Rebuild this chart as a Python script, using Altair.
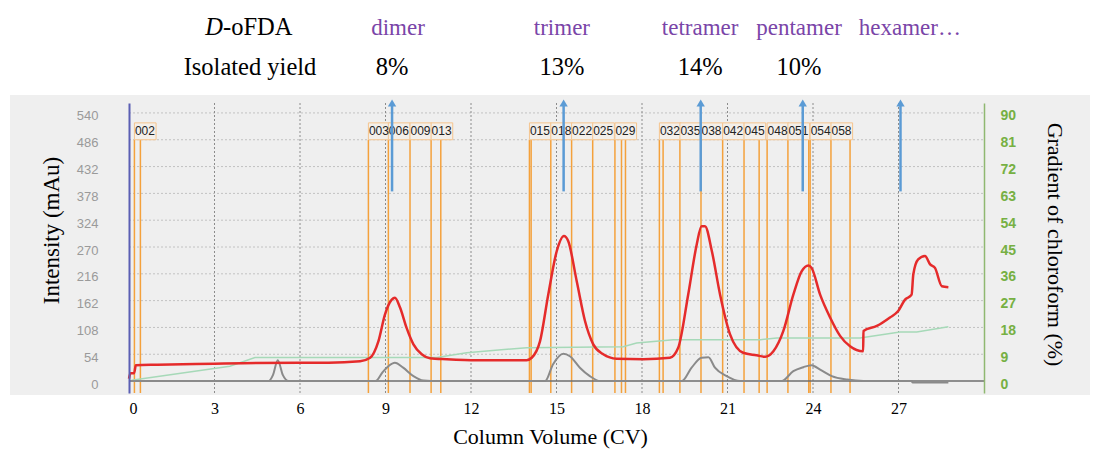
import altair as alt
import pandas as pd

SERIF = "Liberation Serif"
SANS = "Liberation Sans"

# ---------------- data ----------------
red_cv = [0.0, 0.05, 0.18, 0.24, 1.0, 3.0, 4.0, 6.0, 7.0, 8.11, 8.46, 8.75, 8.98, 9.22, 9.33,
          9.51, 9.74, 9.98, 10.27, 10.56, 11.15, 12.2, 13.95, 14.13, 14.42, 14.71, 15.01,
          15.26, 15.41, 15.71, 16.0, 16.29, 16.64, 17.11, 18.05, 18.98, 19.27, 19.62, 19.92,
          20.09, 20.21, 20.45, 20.74, 21.09, 21.55, 22.02, 22.32, 22.61, 22.96, 23.31, 23.6,
          23.84, 23.95, 24.25, 24.6, 24.95, 25.3, 25.76, 25.77, 26.24, 26.7, 26.99, 27.23,
          27.46, 27.52, 27.69, 27.93, 28.11, 28.28, 28.52, 28.75]
red_mau = [5, 16, 16, 32, 33, 35, 36, 37, 37, 40, 47, 80, 134, 164, 168,
           148, 107, 74, 54, 46, 44, 42, 42, 47, 80, 174, 262,
           292, 282, 201, 121, 74, 54, 45, 44, 47, 67, 174, 275,
           312, 312, 262, 174, 94, 57, 52, 49, 60, 101, 174, 221,
           233, 228, 174, 128, 91, 70, 60, 101, 111, 128, 141, 164,
           174, 215, 245, 252, 235, 228, 191, 189]

gray_cv = [0.0, 4.9, 5.05, 5.22, 5.4, 5.6, 8.65, 8.9, 9.1, 9.33, 9.62, 9.98, 10.33, 10.6,
           14.6, 14.88, 15.24, 15.47, 15.82, 16.17, 16.53, 19.4, 19.74, 20.09, 20.33, 20.56,
           20.97, 21.44, 22.9, 23.31, 23.66, 23.95, 24.25, 24.66, 25.2, 25.77, 27.45, 27.5,
           28.75]
gray_mau = [0, 0, 12, 42, 12, 0, 0, 18, 30, 37, 27, 10, 1, 0,
            0, 34, 55, 50, 27, 10, 0, 0, 27, 47, 48, 27,
            10, 0, 0, 20, 28, 32, 23, 10, 3, 0, 0, -3,
            -3]

grad_cv = [0.09, 3.54, 4.42, 10.8, 11.85, 13.95, 17.34, 17.81, 19.1, 22.16, 22.73, 25.65,
           27.05, 27.64, 28.75]
grad_pct = [0.3, 5.0, 7.9, 7.9, 9.5, 11.2, 11.5, 12.8, 13.9, 13.9, 14.5, 14.5,
            16.5, 16.5, 18.2]

fraction_cv = [0.19, 0.40, 8.40, 9.10, 9.86, 10.60, 10.94, 14.05, 14.11, 14.80, 15.53, 16.27,
               17.05, 17.28, 17.42, 18.61, 18.74, 19.33, 20.07, 20.83, 21.58, 22.11, 22.39,
               23.12, 23.85, 23.90, 24.63, 25.30]
fraction_label = ["002", "003", "006", "009", "013", "015", "018", "022", "025", "029",
                  "032", "035", "038", "042", "045", "048", "051", "054", "058"]
fraction_label_cv = [0.19, 8.40, 9.10, 9.86, 10.60, 14.05, 14.80, 15.53, 16.27, 17.05,
                     18.61, 19.33, 20.07, 20.83, 21.58, 22.39, 23.12, 23.90, 24.63]

arrow_cv = [9.23, 15.25, 20.06, 23.64, 27.07]
oligomer = ["dimer", "trimer", "tetramer", "pentamer", "hexamer…"]
oligomer_cv = [9.44, 15.19, 20.04, 23.51, 27.40]
yield_text = ["8%", "13%", "14%", "10%"]
yield_cv = [9.23, 15.19, 20.04, 23.51]

x_ticks = [0, 3, 6, 9, 12, 15, 18, 21, 24, 27]
y_ticks = [0, 54, 108, 162, 216, 270, 324, 378, 432, 486, 540]
grad_ticks = [0, 9, 18, 27, 36, 45, 54, 63, 72, 81, 90]

# ---------------- layout constants ----------------
W, H = 855, 290
BOX_LOW, BOX_HIGH, BOX_MID = 486, 520, 503
ARROW_LOW, ARROW_HIGH, ARROW_HEAD = 382, 554, 560

XS = alt.Scale(domain=[0, 30], nice=False, zero=False)
YS = alt.Scale(domain=[-24, 560], nice=False, zero=False)
GS = alt.Scale(domain=[-4, 560 / 6], nice=False, zero=False)

x_axis = alt.Axis(values=x_ticks, grid=False, domain=False, ticks=False, tickSize=0,
                  labelFont=SERIF, labelFontSize=16, labelColor="black", labelPadding=7,
                  title="Column Volume (CV)", titleFont=SERIF, titleFontSize=22,
                  titleFontWeight="normal", titleColor="black", titlePadding=10,
                  titleX=421, titleAlign="center", zindex=2)


def X(field):
    return alt.X(f"{field}:Q", scale=XS, axis=x_axis, title="Column Volume (CV)")


def Yn(field):
    return alt.Y(f"{field}:Q", scale=YS, axis=None)


red_df = pd.DataFrame({"cv": red_cv, "mau": red_mau})
gray_df = pd.DataFrame({"cv": gray_cv, "mau": gray_mau})
grad_df = pd.DataFrame({"cv": grad_cv, "pct": grad_pct})
frac_df = pd.DataFrame({"cv": fraction_cv})
lab_df = pd.DataFrame({"cv": fraction_label_cv, "label": fraction_label})
arrow_df = pd.DataFrame({"cv": arrow_cv})
olig_df = pd.DataFrame({"cv": oligomer_cv, "name": oligomer})
yield_df = pd.DataFrame({"cv": yield_cv, "txt": yield_text})
xt_df = pd.DataFrame({"cv": x_ticks[1:]})
yt_df = pd.DataFrame({"v": y_ticks[1:]})
one = pd.DataFrame({"a": [0]})

# background panel
panel = alt.Chart(one).mark_rect(color="#efefef").encode(
    x=alt.value(-119), x2=alt.value(W + 106), y=alt.value(-8), y2=alt.value(H + 2))

hgrid = alt.Chart(yt_df).mark_rule(color="#c2c2c2", strokeDash=[2, 2], strokeWidth=1).encode(
    y=Yn("v"), x=alt.value(0), x2=alt.value(W))
vgrid = alt.Chart(xt_df).mark_rule(color="#8c8c8c", strokeDash=[2, 2], strokeWidth=1).encode(
    x=X("cv"), y=alt.value(0), y2=alt.value(H))

frac_lines = alt.Chart(frac_df).mark_rule(color="#f4a13c", strokeWidth=1.5).encode(
    x=X("cv"), y=alt.Y("low:Q", scale=YS, axis=None), y2=alt.value(H)
).transform_calculate(low=str(BOX_LOW))

boxes = alt.Chart(lab_df).mark_rect(fill="#f3efea", stroke="#f5c48e", strokeWidth=1).encode(
    x=X("cv"), x2="end:Q", y=alt.Y("low:Q", scale=YS, axis=None), y2="high:Q"
).transform_calculate(end="datum.cv + 0.76", low=str(BOX_LOW), high=str(BOX_HIGH))

box_text = alt.Chart(lab_df).mark_text(align="left", baseline="middle", dx=0.5, font=SANS,
                                       fontSize=12, color="#222222").encode(
    x=X("cv"), y=alt.Y("mid:Q", scale=YS, axis=None), text="label:N"
).transform_calculate(mid=str(BOX_MID))

baseline = alt.Chart(one).mark_rule(color="#6e6e6e", strokeWidth=1.5).encode(
    y=alt.Y("z:Q", scale=YS, axis=None), x=alt.value(0), x2=alt.value(W)
).transform_calculate(z="0")

grad_axis = alt.Axis(values=grad_ticks, orient="right", grid=False, ticks=False, tickSize=0,
                     domainColor="#8fb871", domainWidth=1.5, labelColor="#76b043",
                     labelFont=SANS, labelFontWeight="bold", labelFontSize=14,
                     labelPadding=16, labelOffset=3,
                     title="Gradient of chloroform (%)", titleFont=SERIF, titleFontSize=22,
                     titleFontWeight="normal", titleColor="black", titleAngle=90,
                     titleX=70, titleY=141, titleAlign="center", titleBaseline="middle",
                     zindex=2)
green = alt.Chart(grad_df).mark_line(color="#a6d9b8", strokeWidth=1.5).encode(
    x=X("cv"), y=alt.Y("pct:Q", scale=GS, axis=grad_axis))

gray = alt.Chart(gray_df).mark_line(color="#8a8a8a", strokeWidth=2,
                                    interpolate="monotone").encode(
    x=X("cv"), y=Yn("mau"))

left_axis = alt.Axis(values=y_ticks, orient="left", grid=False, ticks=False, tickSize=0,
                     domainColor="#5b5fb4", domainWidth=2, labelColor="#9a9a9a",
                     labelFont=SANS, labelFontSize=13, labelPadding=31, labelOffset=3,
                     title="Intensity (mAu)", titleFont=SERIF, titleFontSize=23,
                     titleFontWeight="normal", titleColor="black", titleAngle=270,
                     titleX=-78, titleY=127, titleAlign="center", titleBaseline="middle",
                     zindex=2)
red = alt.Chart(red_df).mark_line(color="#e52b2b", strokeWidth=2.5,
                                  interpolate="monotone").encode(
    x=X("cv"), y=alt.Y("mau:Q", scale=YS, axis=left_axis))

arrow_shaft = alt.Chart(arrow_df).mark_rule(color="#5b9bd5", strokeWidth=2.5).encode(
    x=X("cv"), y=alt.Y("lo:Q", scale=YS, axis=None), y2="hi:Q"
).transform_calculate(lo=str(ARROW_LOW), hi=str(ARROW_HIGH))
arrow_head = alt.Chart(arrow_df).mark_point(shape="triangle-up", filled=True, size=70,
                                            color="#5b9bd5", opacity=1).encode(
    x=X("cv"), y=alt.Y("h:Q", scale=YS, axis=None)
).transform_calculate(h=str(ARROW_HEAD))

black_txt = dict(font=SERIF, fontSize=24.5, baseline="middle", color="black")
purple_txt = dict(font=SERIF, fontSize=23, baseline="middle", color="#7a45a8")
d_italic = alt.Chart(one).mark_text(align="right", fontStyle="italic", **black_txt).encode(
    x=alt.value(94), y=alt.value(-75), text=alt.value("D"))
d_rest = alt.Chart(one).mark_text(align="left", **black_txt).encode(
    x=alt.value(94), y=alt.value(-75), text=alt.value("-oFDA"))
iso = alt.Chart(one).mark_text(align="center", **black_txt).encode(
    x=alt.value(121), y=alt.value(-35), text=alt.value("Isolated yield"))
olig = alt.Chart(olig_df).mark_text(align="center", **purple_txt).encode(
    x=X("cv"), y=alt.value(-75), text="name:N")
yld = alt.Chart(yield_df).mark_text(align="center", **black_txt).encode(
    x=X("cv"), y=alt.value(-35), text="txt:N")

chart = alt.layer(
    panel, hgrid, vgrid, frac_lines, boxes, box_text, baseline, green, gray, red,
    arrow_shaft, arrow_head, d_italic, d_rest, iso, olig, yld
).resolve_scale(y="independent").properties(
    width=W, height=H,
    autosize=alt.AutoSizeParams(type="none"),
    padding={"left": 129, "top": 103, "right": 112, "bottom": 57},
    background="white",
).configure_view(stroke=None)

chart.save("out.html", embed_options={"renderer": "svg", "actions": False})
